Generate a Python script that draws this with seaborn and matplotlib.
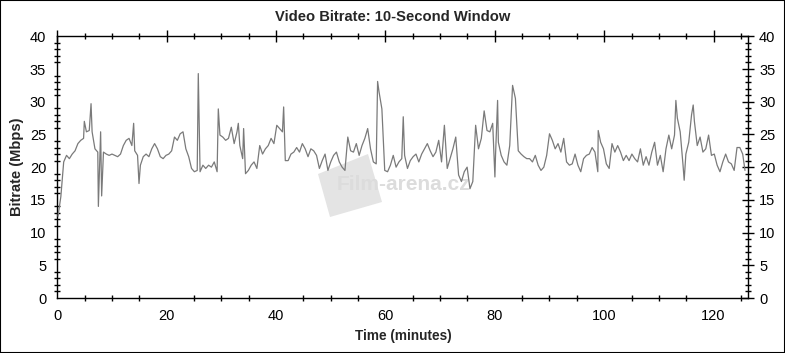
import numpy as np
import pandas as pd
import matplotlib
matplotlib.use("Agg")
import matplotlib.pyplot as plt
import seaborn as sns
from matplotlib.ticker import MultipleLocator
from matplotlib.patches import Rectangle, Polygon
from matplotlib import font_manager

# ---- data ----
# bitrate (Mbps) sampled on a regular grid of ~0.52 min
bitrate = [
    12.5, 15.5, 20.8, 21.8, 21.3, 22.0, 22.5, 23.6, 24.1, 24.4,
    25.4, 25.6, 25.4, 22.8, 22.3, 25.4, 22.3, 22.0, 21.8, 22.0,
    21.8, 21.6, 22.0, 23.3, 24.1, 24.4, 23.3, 22.5, 21.8, 20.3,
    21.6, 22.0, 21.6, 22.8, 23.6, 22.8, 21.6, 21.3, 21.8, 22.0,
    22.5, 24.6, 24.1, 25.1, 25.4, 22.8, 21.6, 19.8, 19.3,
    19.5, 19.3, 20.3, 19.8, 20.3, 20.0, 20.8, 19.3, 24.9, 24.6,
    24.1, 24.4, 26.1, 23.6, 25.4, 23.3, 21.3, 19.0, 19.5, 20.3,
    20.8, 19.8, 23.3, 22.0, 22.8, 23.3, 24.4, 23.6, 26.4, 25.9,
    25.4, 21.0, 21.0, 22.0, 22.3, 23.0, 22.3, 23.6, 22.8, 21.6,
    22.8, 22.5, 21.8, 19.8, 21.0, 22.0, 19.5, 20.8, 21.8,
    22.3, 20.8, 20.0, 19.5, 24.6, 22.5, 22.3, 23.6, 21.8, 23.3,
    24.4, 25.9, 22.8, 20.8, 20.5, 31.5, 28.9, 19.5, 19.3, 20.3,
    21.8, 20.0, 20.8, 21.3, 21.8, 19.8, 21.0, 21.6, 22.0, 20.8,
    22.0, 22.8, 23.6, 22.5, 21.6, 22.3, 24.1, 20.8, 26.4, 19.8,
    21.3, 22.8, 24.6, 18.8, 17.8, 19.3, 20.0, 16.7, 17.8,
    26.4, 22.8, 24.4, 28.6, 25.6, 25.4, 26.7, 21.8, 23.8, 21.8,
    20.8, 20.3, 23.3, 32.5, 30.5, 22.5, 22.0, 21.6, 21.3, 21.3,
    20.8, 21.8, 20.3, 19.5, 20.0, 21.8, 25.1, 24.1, 22.8, 23.6,
    22.3, 24.4, 20.8, 20.3, 20.5, 22.0, 20.3, 19.3, 21.3, 21.8,
    22.0, 23.0, 22.3, 19.3, 23.8, 22.8, 20.5, 19.8, 23.6,
    22.3, 23.3, 22.3, 21.0, 21.8, 21.0, 22.0, 21.3, 20.8, 22.8,
    20.3, 21.6, 20.3, 22.3, 23.8, 20.3, 21.8, 19.3, 22.8, 24.9,
    22.8, 24.9, 27.5, 25.4, 20.3, 22.0, 23.8, 28.0, 27.0, 23.3,
    24.6, 22.3, 22.8, 24.9, 21.8, 22.0, 20.3, 19.3, 20.8, 22.0,
    20.8, 20.5, 19.5, 23.0, 23.0, 22.0,
]
sample_start_min = 0.13
sample_step_min = 0.5195

# narrow spikes / dips read separately
spike_minutes = [4.94, 6.17, 7.51, 8.11, 13.96, 14.94, 25.78, 29.44, 33.10, 34.07,
                 41.39, 58.57, 63.26, 80.02, 80.51, 98.91, 113.11, 114.63, 116.28, 125.75]
spike_bitrate = [27.0, 29.7, 14.0, 15.6, 26.7, 17.5, 34.3, 28.9, 26.7, 25.9,
                 29.2, 33.1, 27.7, 18.5, 30.2, 25.6, 30.2, 18.0, 29.5, 19.5]

x_ticks = [0, 20, 40, 60, 80, 100, 120]
y_ticks = [0, 5, 10, 15, 20, 25, 30, 35, 40]

title = "Video Bitrate: 10-Second Window"
x_label = "Time (minutes)"
y_label = "Bitrate (Mbps)"
watermark = "Film-arena.cz"

# ---- style ----
sns.set_theme(style="white")
names = {f.name for f in font_manager.fontManager.ttflist}
fam = [f for f in ["Liberation Sans Narrow", "Liberation Sans", "DejaVu Sans"] if f in names]
plt.rcParams["font.family"] = fam

grid_minutes = sample_start_min + sample_step_min * np.arange(len(bitrate))
df = pd.DataFrame({
    "Time": np.concatenate([grid_minutes, spike_minutes]),
    "Bitrate": np.concatenate([bitrate, spike_bitrate]),
}).sort_values("Time")

W, H = 785, 353
fig = plt.figure(figsize=(W / 100, H / 100), dpi=100)
fig.patch.set_facecolor("white")
L, R, T, B = 57.3, 748.0, 36.3, 298.0
ax = fig.add_axes([L / W, 1 - B / H, (R - L) / W, (B - T) / H])
ax.set_facecolor("white")

# watermark (behind the line)
def px2ax(px, py):
    return ((px - L) / (R - L), (B - py) / (B - T))
clap = [px2ax(*p) for p in [(318, 174), (368, 154), (382, 202), (330, 217)]]
ax.add_patch(Polygon(clap, closed=True, transform=ax.transAxes,
                     facecolor="#e4e4e4", edgecolor="none", zorder=0))
wx, wy = px2ax(403, 185)
ax.text(wx, wy, watermark, transform=ax.transAxes, ha="center", va="center",
        fontsize=15, fontweight="bold", color="#dcdcdc", zorder=1,
        family=["Liberation Sans", "DejaVu Sans"])

sns.lineplot(data=df, x="Time", y="Bitrate", ax=ax, color="#7a7a7a",
             linewidth=0.9, zorder=3)

ax.set_xlim(0, 126.3)
ax.set_ylim(0, 40)
ax.set_xticks(x_ticks)
ax.set_yticks(y_ticks)
ax.xaxis.set_minor_locator(MultipleLocator(5))
ax.yaxis.set_minor_locator(MultipleLocator(1))
ax.set_xlabel("")
ax.set_ylabel("")
for s in ax.spines.values():
    s.set_visible(True)
    s.set_color("black")
    s.set_linewidth(1.0)
ax.tick_params(axis="both", which="major", direction="inout", length=8, width=1,
               color="black", labelsize=10.5, labelcolor="black",
               top=True, right=True, labelright=True, pad=4)
ax.tick_params(axis="both", which="minor", direction="inout", length=5, width=1,
               color="black", top=True, right=True, bottom=True, left=True)
ax.grid(False)

fig.text(0.5, 1 - 17 / H, title, ha="center", va="center",
         fontsize=10.6, fontweight="bold")
fig.text(403 / W, 1 - 336 / H, x_label, ha="center", va="center",
         fontsize=9.8, fontweight="bold")
fig.text(17 / W, 1 - 167 / H, y_label, ha="center", va="center",
         rotation=90, fontsize=10.5, fontweight="bold")

fig.patches.append(Rectangle((0, 0), 1, 1, transform=fig.transFigure,
                             fill=False, edgecolor="black", linewidth=1.5))

fig.savefig("out.png", dpi=100, facecolor="white")
